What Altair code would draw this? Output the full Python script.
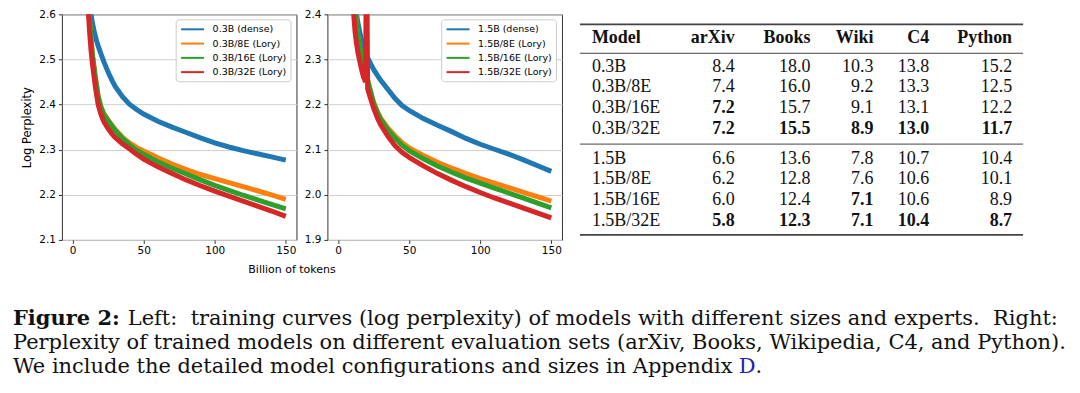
import altair as alt
import pandas as pd

# ---------------- training curves ----------------
TOKENS = [10, 11, 12, 13, 14, 15, 16, 17, 18, 20, 22, 25, 28, 30, 35, 40, 45,
          50, 60, 70, 80, 90, 100, 110, 120, 130, 140, 150]

DENSE_03 = [2.75, 2.69, 2.635, 2.60, 2.58, 2.565, 2.552, 2.54, 2.53, 2.512, 2.495,
            2.472, 2.452, 2.44, 2.418, 2.401, 2.389, 2.379, 2.363, 2.350, 2.338,
            2.326, 2.315, 2.306, 2.298, 2.291, 2.284, 2.277]
E8_03 = [2.72, 2.64, 2.585, 2.545, 2.51, 2.485, 2.46, 2.44, 2.418, 2.395, 2.38,
         2.366, 2.353, 2.345, 2.328, 2.315, 2.305, 2.297, 2.282, 2.268, 2.256,
         2.245, 2.236, 2.227, 2.218, 2.209, 2.200, 2.190]
E16_03 = [2.72, 2.64, 2.585, 2.545, 2.51, 2.485, 2.46, 2.44, 2.418, 2.393, 2.378,
          2.364, 2.351, 2.343, 2.325, 2.311, 2.299, 2.290, 2.273, 2.259, 2.246,
          2.233, 2.221, 2.210, 2.199, 2.189, 2.179, 2.169]
E32_03 = [2.68, 2.61, 2.56, 2.52, 2.49, 2.465, 2.44, 2.42, 2.40, 2.378, 2.362,
          2.347, 2.334, 2.327, 2.313, 2.302, 2.290, 2.279, 2.262, 2.247, 2.233,
          2.220, 2.208, 2.197, 2.186, 2.175, 2.164, 2.152]

DENSE_15 = [2.52, 2.47, 2.43, 2.40, 2.38, 2.365, 2.35, 2.338, 2.328, 2.31, 2.296,
            2.278, 2.263, 2.254, 2.234, 2.214, 2.198, 2.187, 2.169, 2.154, 2.140,
            2.125, 2.112, 2.101, 2.090, 2.078, 2.065, 2.052]
E8_15 = [2.55, 2.47, 2.41, 2.375, 2.35, 2.33, 2.315, 2.303, 2.29, 2.265, 2.24,
         2.205, 2.182, 2.17, 2.148, 2.131, 2.116, 2.104, 2.087, 2.072, 2.059,
         2.047, 2.036, 2.026, 2.016, 2.006, 1.996, 1.986]
E16_15 = [2.55, 2.47, 2.41, 2.375, 2.35, 2.33, 2.315, 2.303, 2.29, 2.264, 2.238,
          2.203, 2.18, 2.167, 2.144, 2.126, 2.110, 2.098, 2.080, 2.064, 2.050,
          2.037, 2.026, 2.015, 2.004, 1.993, 1.982, 1.971]
TOKENS_E32_15 = [10, 11, 12, 13, 14, 15, 16, 17, 18, 19.4, 19.9, 20.1, 20.8, 22,
                 25, 28, 30, 35, 40, 45, 50, 60, 70, 80, 90, 100, 110, 120, 130,
                 140, 150]
E32_15 = [2.46, 2.40, 2.36, 2.335, 2.315, 2.30, 2.285, 2.272, 2.26, 2.25, 2.55,
          2.55, 2.235, 2.222, 2.192, 2.168, 2.155, 2.130, 2.109, 2.094, 2.083,
          2.064, 2.047, 2.032, 2.018, 2.005, 1.993, 1.982, 1.971, 1.960, 1.949]

LABELS_03 = ["0.3B (dense)", "0.3B/8E (Lory)", "0.3B/16E (Lory)", "0.3B/32E (Lory)"]
LABELS_15 = ["1.5B (dense)", "1.5B/8E (Lory)", "1.5B/16E (Lory)", "1.5B/32E (Lory)"]
COLORS = ["#1f77b4", "#ff7f0e", "#2ca02c", "#d62728"]

# ---------------- table ----------------
COLUMNS = ["Model", "arXiv", "Books", "Wiki", "C4", "Python"]
MODELS = ["0.3B", "0.3B/8E", "0.3B/16E", "0.3B/32E",
          "1.5B", "1.5B/8E", "1.5B/16E", "1.5B/32E"]
ARXIV = [8.4, 7.4, 7.2, 7.2, 6.6, 6.2, 6.0, 5.8]
BOOKS = [18.0, 16.0, 15.7, 15.5, 13.6, 12.8, 12.4, 12.3]
WIKI = [10.3, 9.2, 9.1, 8.9, 7.8, 7.6, 7.1, 7.1]
C4 = [13.8, 13.3, 13.1, 13.0, 10.7, 10.6, 10.6, 10.4]
PYTHON = [15.2, 12.5, 12.2, 11.7, 10.4, 10.1, 8.9, 8.7]

CAPTION_BOLD = "Figure 2:"
CAPTION_1 = "Left:\u00a0 training curves (log perplexity) of models with different sizes and experts.\u00a0 Right:"
CAPTION_2 = "Perplexity of trained models on different evaluation sets (arXiv, Books, Wikipedia, C4, and Python)."
CAPTION_3 = "We include the detailed model configurations and sizes in Appendix"
CAPTION_LINK = "D"

# ---------------- layout / style ----------------
PW, PH = 235, 226
TICK_FONT = "DejaVu Sans"
SERIF_TABLE = "Liberation Serif"
SERIF_CAP = "DejaVu Serif"
TABLE_X_RANGE = [-13, -1, 142, 218, 281, 337, 420, 431]
TABLE_Y_RANGE = [10, 24, 39, 53, 73, 94, 115, 130, 145, 165, 186, 207, 221]


def curves(labels, xs_list, ys_list):
    rows = []
    for lab, xs, ys in zip(labels, xs_list, ys_list):
        for x, y in zip(xs, ys):
            rows.append({"series": lab, "tokens": x, "ppl": y})
    return pd.DataFrame(rows)


def panel(df, labels, ydom, yvals, first):
    xaxis = dict(values=[0, 50, 100, 150], grid=False, domain=False,
                 labelFont=TICK_FONT, labelFontSize=10.5, labelColor="#000",
                 tickColor="#000", tickSize=3.5, tickWidth=0.8, labelPadding=2)
    yaxis = dict(values=yvals, format=".1f", grid=True, gridColor="#d0d0d0",
                 gridWidth=1, domain=False, labelFont=TICK_FONT, labelFontSize=10.5,
                 labelColor="#000", tickColor="#000", tickSize=3.5, tickWidth=0.8,
                 labelPadding=3)
    if first:
        xaxis.update(title="Billion of tokens", titleX=230, titleY=30,
                     titleAlign="center", titleBaseline="middle",
                     titleFont=TICK_FONT, titleFontSize=11,
                     titleFontWeight="normal", titleColor="#000")
        yaxis.update(title="Log Perplexity", titleX=-34, titleY=PH / 2,
                     titleAlign="center", titleBaseline="middle",
                     titleFont=TICK_FONT, titleFontSize=11.5,
                     titleFontWeight="normal", titleColor="#000")
    else:
        xaxis.update(title=None)
        yaxis.update(title=None)
    legend = alt.Legend(title=None, orient="none", legendX=114, legendY=5,
                        symbolType="M-1,0H4", symbolSize=85, symbolStrokeWidth=2,
                        labelFont=TICK_FONT, labelFontSize=9.5, labelColor="#000",
                        labelOffset=21, padding=4, rowPadding=3.3,
                        fillColor="white", strokeColor="#cccccc", cornerRadius=3)
    base = alt.Chart(df).mark_line(clip=True, strokeWidth=5).encode(
        x=alt.X("tokens:Q", scale=alt.Scale(domain=[-7.5, 157.5], nice=False, zero=False),
                axis=alt.Axis(**xaxis)),
        y=alt.Y("ppl:Q", scale=alt.Scale(domain=ydom, nice=False, zero=False),
                axis=alt.Axis(**yaxis)),
        color=alt.Color("series:N", scale=alt.Scale(domain=labels, range=COLORS),
                        legend=legend),
    )
    layers = [base.transform_filter(alt.datum.series == lab) for lab in labels]
    return alt.layer(*layers).properties(
        width=PW, height=PH, view=alt.ViewBackground(stroke="#333333", strokeWidth=1))


df03 = curves(LABELS_03, [TOKENS] * 4, [DENSE_03, E8_03, E16_03, E32_03])
df15 = curves(LABELS_15, [TOKENS, TOKENS, TOKENS, TOKENS_E32_15],
              [DENSE_15, E8_15, E16_15, E32_15])

p1 = panel(df03, LABELS_03, [2.1, 2.6], [2.1, 2.2, 2.3, 2.4, 2.5, 2.6], True)
p2 = panel(df15, LABELS_15, [1.9, 2.4], [1.9, 2.0, 2.1, 2.2, 2.3, 2.4], False)

# ---------------- table chart ----------------
values = {"arXiv": ARXIV, "Books": BOOKS, "Wiki": WIKI, "C4": C4, "Python": PYTHON}
cells = []
for i, m in enumerate(MODELS):
    slot = 3 + i if i < 4 else 8 + (i - 4)
    cells.append({"slot": slot, "col": 1, "text": m, "kind": "model"})
    for j, c in enumerate(COLUMNS[1:]):
        vals = values[c][:4] if i < 4 else values[c][4:]
        v = values[c][i]
        cells.append({"slot": slot, "col": j + 2, "text": f"{v:.1f}",
                      "kind": "best" if v == min(vals) else "num"})
for j, c in enumerate(COLUMNS):
    cells.append({"slot": 1, "col": j + 1, "text": c,
                  "kind": "hmodel" if j == 0 else "head"})
cells_df = pd.DataFrame(cells)
rules_df = pd.DataFrame({"slot": [0, 2, 7, 12], "x0": 0, "x1": 7,
                         "kind": ["thick", "thin", "thin", "thick"]})

tscale_x = alt.Scale(domain=list(range(8)), range=TABLE_X_RANGE, nice=False, zero=False)
tx = alt.X("col:Q", scale=tscale_x, axis=None)
ty = alt.Y("slot:Q", scale=alt.Scale(domain=list(range(13)), range=TABLE_Y_RANGE,
                                     nice=False, zero=False), axis=None)

tbase = alt.Chart(cells_df)
text_layers = []
for kind, align, weight in [("model", "left", "normal"), ("num", "right", "normal"),
                            ("best", "right", "bold"), ("hmodel", "left", "bold"),
                            ("head", "right", "bold")]:
    text_layers.append(
        tbase.transform_filter(alt.datum.kind == kind)
        .mark_text(align=align, baseline="middle", font=SERIF_TABLE, fontSize=18,
                   fontWeight=weight, color="#111")
        .encode(x=tx, y=ty, text="text:N"))
rbase = alt.Chart(rules_df)
rule_layers = [
    rbase.transform_filter(alt.datum.kind == k)
    .mark_rule(color="#444", strokeWidth=w)
    .encode(x=alt.X("x0:Q", scale=tscale_x, axis=None), x2="x1:Q", y=ty)
    for k, w in [("thick", 1.8), ("thin", 1.0)]
]
table = alt.layer(*rule_layers, *text_layers).properties(
    width=431, height=PH, view=alt.ViewBackground(strokeWidth=0))

# ---------------- caption ----------------
cap_df = pd.DataFrame({
    "piece": ["bold", "l1", "l2", "l3", "link", "dot"],
    "line": [0, 0, 1, 2, 2, 2],
    "text": [CAPTION_BOLD, CAPTION_1, CAPTION_2, CAPTION_3, CAPTION_LINK, "."],
})
cy = alt.Y("line:Q", scale=alt.Scale(domain=[0, 2], range=[0, 48], nice=False, zero=False),
           axis=None)
cbase = alt.Chart(cap_df)
cap_layers = []
for piece, xoff, weight, color in [("bold", -49, "bold", "#111"), ("l1", 66, "normal", "#111"),
                                   ("l2", -49, "normal", "#111"), ("l3", -49, "normal", "#111"),
                                   ("link", 678, "normal", "#2222aa"), ("dot", 695, "normal", "#111")]:
    cap_layers.append(
        cbase.transform_filter(alt.datum.piece == piece)
        .mark_text(align="left", baseline="alphabetic", font=SERIF_CAP, fontSize=21,
                   fontWeight=weight, color=color)
        .encode(x=alt.value(xoff), y=cy, text="text:N"))
caption = alt.layer(*cap_layers).properties(
    width=PW, height=48, view=alt.ViewBackground(strokeWidth=0))

chart = alt.concat(
    p1, p2, table, caption, columns=3, spacing={"row": 85, "column": 31},
    bounds="flush", align="each",
).resolve_scale(color="independent", x="independent", y="independent").properties(
    padding={"left": 5, "top": 0, "right": 5, "bottom": 5}
).configure(font=TICK_FONT)

chart.save("out.html", embed_options={"renderer": "svg", "actions": False})
